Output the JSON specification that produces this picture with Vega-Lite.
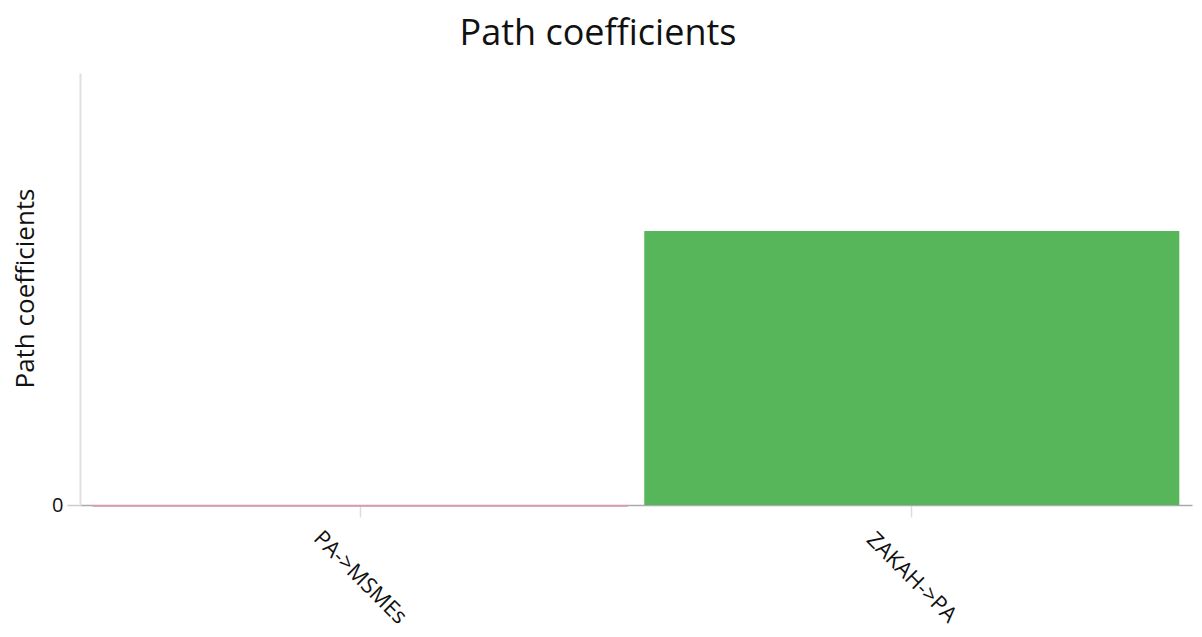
{
  "$schema": "https://vega.github.io/schema/vega-lite/v6.json",
  "autosize": {"type": "none"},
  "width": 1112,
  "height": 432,
  "padding": {"left": 80, "top": 73, "right": 10, "bottom": 132},
  "background": "white",
  "view": {"stroke": null},
  "title": {
    "text": "Path coefficients",
    "font": "Open Sans",
    "fontSize": 36,
    "fontWeight": "normal",
    "color": "#111111",
    "anchor": "middle",
    "dx": -38,
    "offset": 20
  },
  "data": {
    "values": [
      {"path": "PA->MSMEs", "coef": -0.004},
      {"path": "ZAKAH->PA", "coef": 0.634}
    ]
  },
  "mark": {"type": "bar"},
  "encoding": {
    "x": {
      "field": "path",
      "type": "nominal",
      "sort": null,
      "scale": {"paddingInner": 0.03, "paddingOuter": 0.023},
      "axis": {
        "title": null,
        "labelAngle": 45,
        "labelAlign": "center",
        "labelBaseline": "middle",
        "labelPadding": 60,
        "labelFont": "Open Sans",
        "labelFontSize": 22,
        "labelColor": "#111111",
        "labelOverlap": false,
        "labelBound": false,
        "labelFlush": false,
        "tickSize": 12,
        "tickColor": "#dddddd",
        "tickWidth": 1.5,
        "domainColor": "#aaaaaa",
        "domainWidth": 1.5,
        "grid": false
      }
    },
    "y": {
      "field": "coef",
      "type": "quantitative",
      "scale": {"domain": [0, 1], "nice": false, "zero": true},
      "axis": {
        "title": "Path coefficients",
        "titleFont": "Open Sans",
        "titleFontSize": 26,
        "titleFontWeight": "normal",
        "titleColor": "#111111",
        "titleX": -55,
        "titleY": 215,
        "titleBaseline": "middle",
        "titleAngle": -90,
        "values": [0],
        "labelFont": "Open Sans",
        "labelFontSize": 20,
        "labelColor": "#111111",
        "labelPadding": 4,
        "tickSize": 13,
        "tickColor": "#cccccc",
        "tickWidth": 1.5,
        "domainColor": "#e0e0e0",
        "domainWidth": 2,
        "grid": false
      }
    },
    "color": {
      "field": "path",
      "type": "nominal",
      "scale": {"domain": ["PA->MSMEs", "ZAKAH->PA"], "range": ["#d99aa8", "#57b65a"]},
      "legend": null
    }
  }
}
